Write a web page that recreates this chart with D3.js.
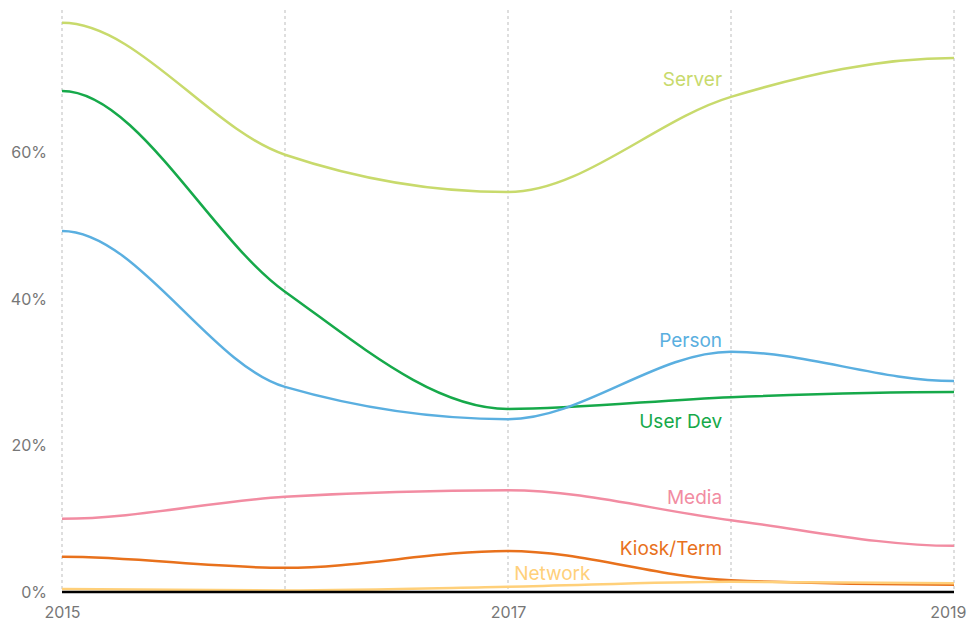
<!DOCTYPE html>
<html>
<head>
<meta charset="utf-8">
<script src="https://cdn.jsdelivr.net/npm/d3@7"></script>
<style>
body{margin:0;background:#fff;}
#canvas{width:968px;height:624px;}
.tick text{font-family:Inter,"Noto Sans",sans-serif;font-size:16px;fill:#777;}
.lab{font-family:Inter,"Noto Sans",sans-serif;font-size:19px;}
</style>
</head>
<body>
<div id="canvas" class="canvas"></div>
<script>
// data
var years = [2015, 2016, 2017, 2018, 2019];
var yTicks = [0, 20, 40, 60];
var xTickLabels = [2015, 2017, 2019];
var names = ['Server', 'User Dev', 'Person', 'Media', 'Kiosk/Term', 'Network'];
var server = [77.7, 59.7, 54.6, 67.6, 72.9];
var userDev = [68.4, 41.0, 25.0, 26.6, 27.3];
var person = [49.3, 28.0, 23.6, 32.8, 28.8];
var media = [10.0, 13.0, 13.9, 9.8, 6.3];
var kiosk = [4.8, 3.3, 5.6, 1.6, 1.0];
var network = [0.4, 0.2, 0.7, 1.4, 1.2];
var colors = ['#c8da6c', '#16a94a', '#5aafe0', '#f28ca2', '#e8711c', '#ffd07a'];
// label anchors: [year, value] at the right end of each label
var labelAt = [[2017.96, 69.1], [2017.96, 22.4], [2017.96, 33.4], [2017.96, 12.0], [2017.96, 5.0], [2017.37, 1.6]];

var series = [server, userDev, person, media, kiosk, network];

var m = {t:10,r:14,b:32,l:62};
var outerWidth = 968, outerHeight = 624;
var w = outerWidth - m.l - m.r,
    h = outerHeight - m.t - m.b;

var svg = d3.select('.canvas')
    .append('svg')
    .attr('width',outerWidth)
    .attr('height',outerHeight);
var plot = svg.append('g')
    .attr('transform','translate(' + m.l + ',' + m.t + ')');

var scaleX = d3.scaleLinear().domain([2015,2019]).range([0,w]);
var scaleY = d3.scaleLinear().domain([0,80]).range([h,h-80*7.325]);

// monotone curve with flat ends
function FlatMono(context){ this._context = context; }
FlatMono.prototype = {
    areaStart:function(){ this._line = 0; },
    areaEnd:function(){ this._line = NaN; },
    lineStart:function(){ this._x = []; this._y = []; },
    point:function(x,y){ this._x.push(+x); this._y.push(+y); },
    lineEnd:function(){
        var x = this._x, y = this._y, n = x.length, t = [], i;
        for(i=0;i<n;i++){
            if(i==0 || i==n-1){ t.push(0); continue; }
            var s0 = (y[i]-y[i-1])/(x[i]-x[i-1]),
                s1 = (y[i+1]-y[i])/(x[i+1]-x[i]),
                p = (s0+s1)/2;
            t.push((Math.sign(s0)+Math.sign(s1))*Math.min(Math.abs(s0),Math.abs(s1),0.5*Math.abs(p)));
        }
        this._context.moveTo(x[0],y[0]);
        for(i=1;i<n;i++){
            var dx = (x[i]-x[i-1])/3;
            this._context.bezierCurveTo(x[i-1]+dx, y[i-1]+dx*t[i-1], x[i]-dx, y[i]-dx*t[i], x[i], y[i]);
        }
    }
};
var flatMono = function(context){ return new FlatMono(context); };

//vertical dotted grid
plot.selectAll('.grid')
    .data(years)
    .enter().append('line')
    .attr('x1',function(d){return scaleX(d)})
    .attr('x2',function(d){return scaleX(d)})
    .attr('y1',0)
    .attr('y2',h)
    .attr('stroke','#d4d4d4')
    .attr('stroke-width',1.5)
    .attr('stroke-dasharray','3,3');

var line = d3.line()
    .x(function(d,i){return scaleX(years[i])})
    .y(function(d){return scaleY(d)})
    .curve(flatMono);

plot.selectAll('.series')
    .data(series)
    .enter().append('path')
    .attr('d',line)
    .attr('fill','none')
    .attr('stroke',function(d,i){return colors[i]})
    .attr('stroke-width',2.5);

plot.selectAll('.lab')
    .data(names)
    .enter().append('text')
    .attr('class','lab')
    .attr('x',function(d,i){return scaleX(labelAt[i][0])})
    .attr('y',function(d,i){return scaleY(labelAt[i][1])})
    .attr('text-anchor','end')
    .attr('fill',function(d,i){return colors[i]})
    .text(function(d){return d});

//baseline
plot.append('line')
    .attr('x1',0).attr('x2',w)
    .attr('y1',scaleY(0)).attr('y2',scaleY(0))
    .attr('stroke','#000').attr('stroke-width',2.5);

//axes
var axisY = d3.axisLeft(scaleY)
    .tickValues(yTicks)
    .tickSize(0)
    .tickPadding(15)
    .tickFormat(function(d){return d + '%'});
var axisX = d3.axisBottom(scaleX)
    .tickValues(xTickLabels)
    .tickSize(0)
    .tickPadding(15)
    .tickFormat(d3.format('d'));

var axisNodeY = plot.append('g').attr('transform','translate(0,0)');
axisY(axisNodeY);
var axisNodeX = plot.append('g').attr('transform','translate(0,' + h + ')');
axisX(axisNodeX);
plot.selectAll('.domain').remove();
axisNodeY.selectAll('text').attr('dy','0.32em');
axisNodeX.selectAll('text').filter(function(d){return d==2019})
    .attr('text-anchor','end').attr('x',12);
</script>
</body>
</html>
